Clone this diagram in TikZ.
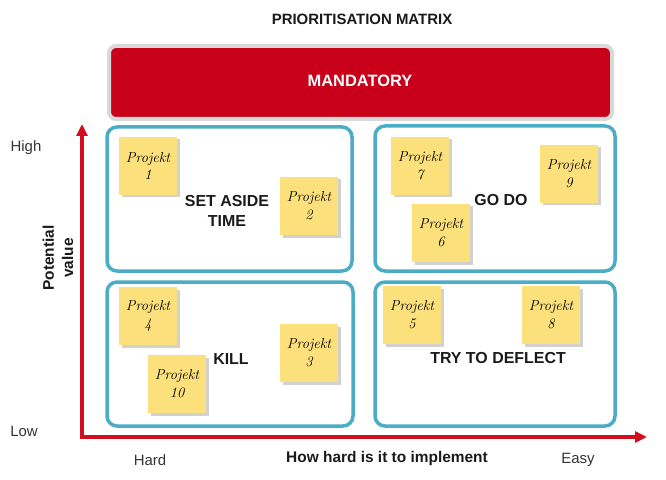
\documentclass[tikz,border=0pt]{standalone}
\usepackage{fontspec}
\setsansfont{Liberation Sans}
\usetikzlibrary{arrows.meta,shadows}
\definecolor{mandred}{HTML}{C8001A}
\definecolor{mandgray}{HTML}{D9D9D9}
\definecolor{quadteal}{HTML}{4BACC6}
\definecolor{axisred}{HTML}{D0101E}
\definecolor{sticky}{HTML}{FCE07C}
\definecolor{txt}{HTML}{1A1A1A}
\tikzset{
  quad/.style={draw=quadteal, line width=3.5bp, rounded corners=10bp},
  stickynote/.style={fill=sticky, minimum width=58bp, minimum height=58bp, inner sep=0pt,
    align=center, font=\rmfamily\itshape\fontsize{14.5}{18}\selectfont, text=black,
    drop shadow={shadow xshift=2.5bp, shadow yshift=-2.5bp, opacity=0.3, fill=black!60}},
  quadlabel/.style={font=\sffamily\bfseries\fontsize{16}{20}\selectfont, text=txt, align=center, inner sep=0pt},
  axislabel/.style={font=\sffamily\fontsize{15}{18}\selectfont, text=black!80, inner sep=0pt},
  axistitle/.style={font=\sffamily\bfseries\fontsize{15.5}{19}\selectfont, text=txt, inner sep=0pt, align=center},
  axisline/.style={draw=axisred, line width=3.5bp, {Triangle[length=12bp,width=11bp]}-{Triangle[length=12bp,width=11bp]}},
}
\begin{document}
\begin{tikzpicture}[x=1bp,y=-1bp]
\useasboundingbox (0,0) rectangle (666,480);
% title
\node[axistitle, font=\sffamily\bfseries\fontsize{15}{18}\selectfont] (title) at (362,19) {PRIORITISATION MATRIX};
% mandatory bar
\draw[fill=mandred, draw=mandgray, line width=4bp, rounded corners=7bp] (109,46) rectangle (612,119);
\node[font=\sffamily\bfseries\fontsize{16.5}{20}\selectfont, text=white, inner sep=0pt] (mand) at (360,81) {MANDATORY};
% quadrants
\draw[quad] (107,127) rectangle (352,271);
\draw[quad] (375,126) rectangle (615,271);
\draw[quad] (107,282) rectangle (353,426);
\draw[quad] (375,282) rectangle (615,426);
% axes
\coordinate (ytop) at (82,124);
\coordinate (orig) at (82,437);
\coordinate (xend) at (647,437);
\draw[axisline] (ytop) -- (orig) -- (xend);
% axis labels
\node[axislabel] (high) at (26,148) {High};
\node[axislabel] (low) at (24,431) {Low};
\node[axislabel] (hard) at (150,460) {Hard};
\node[axislabel] (easy) at (578,460) {Easy};
\node[axistitle] (xlab) at (387,459) {How hard is it to implement};
\node[axistitle, rotate=90, font=\sffamily\bfseries\fontsize{15.5}{19.5}\selectfont] (ylab) at (58,258) {Potential\\value};
% quadrant labels
\node[quadlabel] (setaside) at (227,211) {SET ASIDE\\TIME};
\node[quadlabel] (godo) at (501,200) {GO DO};
\node[quadlabel] (kill) at (231,359) {KILL};
\node[quadlabel] (deflect) at (498,358) {TRY TO DEFLECT};
% sticky notes
\node[stickynote] (p1) at (148,166) {Projekt\\1};
\node[stickynote] (p2) at (309,206) {Projekt\\2};
\node[stickynote] (p7) at (420,166) {Projekt\\7};
\node[stickynote] (p9) at (569,174) {Projekt\\9};
\node[stickynote] (p6) at (441,233) {Projekt\\6};
\node[stickynote] (p4) at (148,316) {Projekt\\4};
\node[stickynote] (p10) at (177,384) {Projekt\\10};
\node[stickynote] (p3) at (309,353) {Projekt\\3};
\node[stickynote] (p5) at (412,315) {Projekt\\5};
\node[stickynote] (p8) at (551,315) {Projekt\\8};
\end{tikzpicture}
\end{document}
